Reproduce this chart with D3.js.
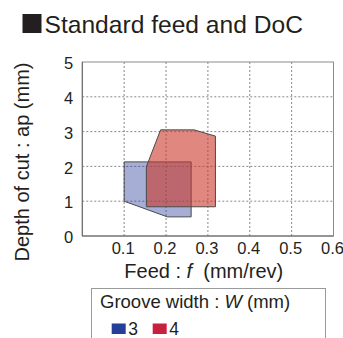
<!DOCTYPE html>
<html><head><meta charset="utf-8">
<script src="https://cdn.jsdelivr.net/npm/d3@7"></script>
<style>
html,body{margin:0;padding:0;background:#fff;}
svg{display:block;font-family:"Liberation Sans",Arial,Helvetica,sans-serif;}
</style></head>
<body>
<svg id="chart" width="343" height="338"></svg>
<script>
const xTicks = [0.1, 0.2, 0.3, 0.4, 0.5, 0.6];
const yTicks = [0, 1, 2, 3, 4, 5];
const groove3 = [[0.1, 1.0], [0.1, 2.13], [0.26, 2.13], [0.26, 0.55], [0.203, 0.55]];
const groove4 = [[0.153, 0.84], [0.153, 1.99], [0.187, 3.05], [0.267, 3.05], [0.318, 2.87], [0.318, 0.84]];
const seriesNames = ["3", "4"];
const seriesColors = ["#233f99", "#c8213f"];
const fillColors = ["#2a3f9a", "#cb372a"];
const fillOpacity = [0.42, 0.6];

const svg = d3.select("#chart");
const x = d3.scaleLinear().domain([0, 0.6]).range([82.3, 333.5]);
const y = d3.scaleLinear().domain([0, 5]).range([236, 62]);

// title
svg.append("rect").attr("x", 22.5).attr("y", 14).attr("width", 19).attr("height", 19).attr("fill", "#231f20");
svg.append("text").attr("x", 44.5).attr("y", 32.5).attr("font-size", 24.6).attr("fill", "#231f20").text("Standard feed and DoC");

// grid
const grid = svg.append("g");
grid.selectAll("line.v").data(xTicks.slice(0, -1)).join("line")
  .attr("x1", d => x(d)).attr("x2", d => x(d)).attr("y1", y(5)).attr("y2", y(0))
  .attr("stroke", "#7a7a7a").attr("stroke-width", 0.9).attr("stroke-dasharray", "2,2");
grid.selectAll("line.h").data(yTicks.slice(1, -1)).join("line")
  .attr("x1", x(0)).attr("x2", x(0.6)).attr("y1", d => y(d)).attr("y2", d => y(d))
  .attr("stroke", "#7a7a7a").attr("stroke-width", 0.9).attr("stroke-dasharray", "2,2");

// polygons
const line = d3.line().x(d => x(d[0])).y(d => y(d[1])).curve(d3.curveLinearClosed);
[groove3, groove4].forEach((pts, i) => {
  svg.append("path").attr("d", line(pts))
    .attr("fill", fillColors[i]).attr("fill-opacity", fillOpacity[i])
    .attr("stroke", "#4a4a4a").attr("stroke-width", 1).attr("stroke-linejoin", "miter");
});

// frame
svg.append("rect").attr("x", x(0)).attr("y", y(5)).attr("width", x(0.6) - x(0)).attr("height", y(0) - y(5))
  .attr("fill", "none").attr("stroke", "#8c8c8c").attr("stroke-width", 1);
svg.append("line").attr("x1", x(0)).attr("x2", x(0)).attr("y1", y(5)).attr("y2", y(0)).attr("stroke", "#666");
svg.append("line").attr("x1", x(0)).attr("x2", x(0.6)).attr("y1", y(0)).attr("y2", y(0)).attr("stroke", "#666");

// axes via d3 axis generators (text only)
const xAxis = svg.append("g").attr("transform", `translate(-1.5,${y(0)})`)
  .call(d3.axisBottom(x).tickValues(xTicks).tickSize(0).tickPadding(6).tickFormat(d3.format(".1f")));
xAxis.select(".domain").remove();
xAxis.selectAll("text").attr("font-size", 16.5).attr("fill", "#231f20").attr("font-family", null);

const yAxis = svg.append("g").attr("transform", `translate(${x(0) - 9},1.5)`)
  .call(d3.axisLeft(y).tickValues(yTicks).tickSize(0).tickPadding(0).tickFormat(d3.format("d")));
yAxis.select(".domain").remove();
yAxis.selectAll("text").attr("font-size", 16.5).attr("fill", "#231f20").attr("font-family", null);

// axis titles
const xt = svg.append("text").attr("x", 124.3).attr("y", 278.3).attr("font-size", 20).attr("fill", "#231f20");
xt.append("tspan").text("Feed : ");
xt.append("tspan").attr("font-style", "italic").text("f");
xt.append("tspan").attr("xml:space", "preserve").text("  (mm/rev)");

svg.append("text").attr("transform", "translate(29,162) rotate(-90)").attr("text-anchor", "middle")
  .attr("font-size", 20).attr("fill", "#231f20").text("Depth of cut : ap (mm)");

// legend
svg.append("rect").attr("x", 91.5).attr("y", 288.5).attr("width", 234).attr("height", 60)
  .attr("fill", "#fff").attr("stroke", "#9a9a9a").attr("stroke-width", 1);
const lt = svg.append("text").attr("x", 100).attr("y", 308.3).attr("font-size", 18.5).attr("fill", "#231f20");
lt.append("tspan").text("Groove width : ");
lt.append("tspan").attr("font-style", "italic").text("W");
lt.append("tspan").text(" (mm)");

const lx = d3.scalePoint().domain(seriesNames).range([111.7, 152.7]);
const items = svg.selectAll("g.leg").data(seriesNames).join("g").attr("transform", d => `translate(${lx(d)},323.5)`);
items.append("rect").attr("width", 14).attr("height", 10.5).attr("fill", (d, i) => seriesColors[i]);
items.append("text").attr("x", 16.5).attr("y", 11).attr("font-size", 17.5).attr("fill", "#231f20").text(d => d);
</script>
</body></html>
